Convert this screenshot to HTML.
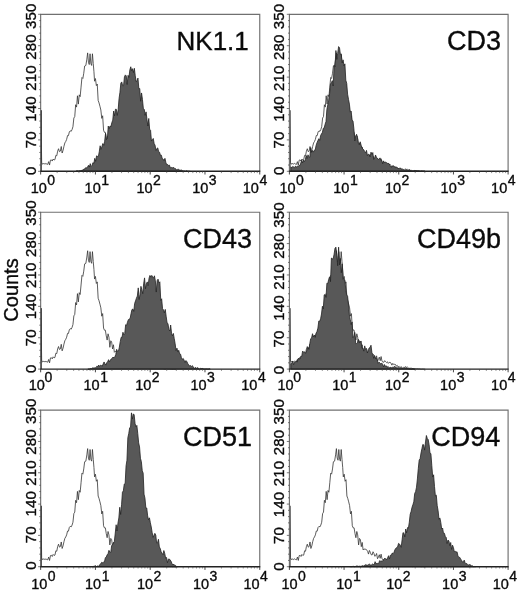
<!DOCTYPE html>
<html><head><meta charset="utf-8"><title>histograms</title>
<style>
html,body{margin:0;padding:0;background:#fff;}
body{width:520px;height:591px;position:relative;overflow:hidden;font-family:"Liberation Sans",sans-serif;}
.t{font-family:"Liberation Sans",sans-serif;fill:#0a0a0a;stroke:#0a0a0a;stroke-width:0.35px;}
svg{will-change:transform;}
</style></head><body>
<svg width="520" height="591" viewBox="0 0 520 591" style="position:absolute;left:0;top:0">
<rect width="520" height="591" fill="#fff"/>
<path d="M40.95 171.30 L40.95 110.29 L41.65 162.33 L42.35 164.12 L43.25 163.65 L44.15 163.66 L45.05 164.13 L45.95 163.37 L46.85 164.15 L47.75 164.37 L48.65 161.65 L49.55 165.05 L50.45 160.17 L51.35 159.87 L52.25 161.06 L53.15 159.03 L54.05 160.01 L54.95 159.66 L55.85 155.37 L56.75 155.79 L57.65 151.16 L58.55 148.72 L59.45 151.67 L60.35 151.14 L61.25 146.51 L62.15 153.03 L63.05 150.41 L63.95 146.30 L64.85 142.91 L65.75 141.46 L66.65 139.38 L67.55 135.54 L68.45 135.64 L69.35 131.88 L70.25 130.79 L71.15 131.42 L72.05 129.59 L72.95 126.72 L73.85 118.06 L74.75 116.56 L75.65 104.74 L76.55 107.10 L77.45 95.79 L78.35 104.09 L79.25 94.84 L80.15 96.63 L81.05 87.12 L81.95 77.55 L82.85 78.46 L83.75 73.25 L84.65 66.03 L85.85 65.44 L86.85 59.16 L87.65 52.88 L88.45 62.30 L89.25 64.54 L90.05 53.77 L90.85 63.64 L91.65 65.44 L92.45 53.77 L93.25 63.64 L93.95 71.72 L94.55 81.21 L95.45 78.56 L96.35 85.61 L97.25 84.06 L98.15 100.39 L99.05 102.94 L99.95 106.31 L100.85 110.00 L101.75 118.36 L102.65 115.75 L103.55 130.23 L104.45 132.37 L105.35 132.35 L106.25 138.08 L107.15 142.25 L108.05 135.98 L108.95 139.41 L109.85 149.48 L110.75 142.93 L111.65 144.13 L112.55 151.19 L113.45 146.95 L114.35 154.47 L115.25 153.45 L116.15 153.93 L117.05 153.62 L117.95 154.63 L118.85 155.80 L119.75 158.66 L120.65 155.00 L121.55 156.87 L122.45 159.30 L123.35 159.59 L124.25 156.31 L125.15 157.93 L126.05 160.87 L126.95 160.21 L127.85 158.03 L128.75 163.35 L129.65 161.71 L130.55 159.32 L131.45 162.88 L132.35 158.74 L133.25 163.44 L134.15 164.21 L135.05 164.49 L135.95 162.85 L136.85 163.90 L137.75 164.79 L138.65 163.97 L139.55 165.58 L140.45 164.61 L141.35 164.54 L142.25 165.31 L143.15 167.37 L144.05 165.56 L144.95 166.78 L145.85 166.50 L146.75 166.72 L147.65 168.34 L148.55 167.62 L149.45 169.21 L150.35 168.50 L151.25 170.34 L152.15 168.80 L153.05 169.40 L153.95 170.67 L154.85 169.47 L155.75 170.15 L156.65 168.72 L157.55 169.94 L158.45 168.92 L159.35 169.88 L160.25 170.78 L161.15 170.32 L162.05 170.45 L162.95 170.31 L163.85 171.30 L164.75 170.94 L165.65 171.08 L166.55 170.86 L167.45 170.91 L168.35 170.91 L169.25 170.87 L170.15 171.12 L171.05 170.94 L171.95 171.22 L172.85 171.26 L173.75 171.16 L174.65 171.22 L175.55 171.30 L176.45 171.30" fill="none" stroke="#333" stroke-width="0.8" stroke-linejoin="round"/>
<path d="M75.85 171.30 L75.85 171.30 L76.75 170.81 L77.65 170.85 L78.55 170.98 L79.45 170.63 L80.35 170.64 L81.25 170.59 L82.15 170.02 L83.05 170.28 L83.95 168.92 L84.85 169.00 L85.75 167.59 L86.65 168.06 L87.55 166.90 L88.45 165.31 L89.35 167.11 L90.25 163.66 L91.15 166.44 L92.05 165.43 L92.95 162.62 L93.85 163.46 L94.75 158.32 L95.65 161.31 L96.55 155.87 L97.45 156.35 L98.35 156.65 L99.25 151.78 L100.15 145.77 L101.05 149.42 L101.95 146.45 L102.85 143.57 L103.75 145.40 L104.65 141.25 L105.55 133.42 L106.45 139.60 L107.35 138.67 L108.25 126.09 L109.15 128.79 L110.05 125.98 L110.95 126.61 L111.85 122.61 L112.75 120.14 L113.65 111.00 L114.55 115.90 L115.45 109.22 L116.35 109.31 L117.25 115.45 L118.15 109.82 L119.05 98.52 L119.95 92.37 L120.85 83.14 L121.75 81.92 L122.65 85.76 L123.55 85.70 L124.45 76.78 L125.35 74.90 L126.25 75.88 L127.15 84.47 L128.05 75.34 L128.95 77.36 L129.85 69.90 L130.75 66.78 L131.65 70.75 L132.55 68.68 L133.45 72.57 L134.35 68.27 L135.25 75.84 L136.15 81.58 L137.05 80.75 L137.95 78.09 L138.85 88.79 L139.75 88.59 L140.65 101.25 L141.55 92.94 L142.45 99.36 L143.35 108.52 L144.25 109.34 L145.15 115.40 L146.05 111.86 L146.95 119.17 L147.85 126.01 L148.75 118.46 L149.65 129.25 L150.55 130.28 L151.45 141.07 L152.35 139.54 L153.25 138.46 L154.15 143.52 L155.05 145.26 L155.95 150.49 L156.85 148.56 L157.75 147.91 L158.65 151.68 L159.55 152.19 L160.45 155.34 L161.35 155.17 L162.25 158.58 L163.15 159.12 L164.05 160.88 L164.95 158.33 L165.85 162.40 L166.75 164.80 L167.65 164.40 L168.55 165.60 L169.45 165.14 L170.35 167.84 L171.25 167.43 L172.15 167.84 L173.05 167.68 L173.95 167.59 L174.85 168.60 L175.75 168.82 L176.65 170.12 L177.55 169.40 L178.45 169.13 L179.35 170.07 L180.25 170.30 L181.15 169.89 L182.05 170.46 L182.95 171.01 L183.85 170.92 L184.75 171.05 L185.65 171.29 L186.55 170.75 L187.45 171.20 L188.35 171.27 L189.25 171.30 L190.15 171.30 L190.15 171.30 Z" fill="#585858" stroke="#222" stroke-width="0.8" stroke-linejoin="round"/>
<line x1="41.05" y1="171.3" x2="41.05" y2="110.29" stroke="#1a1a1a" stroke-width="1.2"/>
<path d="M40.65 171.3 L40.65 14.3 L259.75 14.3 L259.75 171.3" fill="none" stroke="#707070" stroke-width="1.15"/>
<line x1="40.15" y1="171.3" x2="260.25" y2="171.3" stroke="#222" stroke-width="1.4"/>
<line x1="38.05" y1="171.30" x2="40.65" y2="171.30" stroke="#444" stroke-width="0.7"/>
<line x1="39.25" y1="165.02" x2="40.65" y2="165.02" stroke="#444" stroke-width="0.7"/>
<line x1="39.25" y1="158.74" x2="40.65" y2="158.74" stroke="#444" stroke-width="0.7"/>
<line x1="39.25" y1="152.46" x2="40.65" y2="152.46" stroke="#444" stroke-width="0.7"/>
<line x1="39.25" y1="146.18" x2="40.65" y2="146.18" stroke="#444" stroke-width="0.7"/>
<line x1="38.05" y1="139.90" x2="40.65" y2="139.90" stroke="#444" stroke-width="0.7"/>
<line x1="39.25" y1="133.62" x2="40.65" y2="133.62" stroke="#444" stroke-width="0.7"/>
<line x1="39.25" y1="127.34" x2="40.65" y2="127.34" stroke="#444" stroke-width="0.7"/>
<line x1="39.25" y1="121.06" x2="40.65" y2="121.06" stroke="#444" stroke-width="0.7"/>
<line x1="39.25" y1="114.78" x2="40.65" y2="114.78" stroke="#444" stroke-width="0.7"/>
<line x1="38.05" y1="108.50" x2="40.65" y2="108.50" stroke="#444" stroke-width="0.7"/>
<line x1="39.25" y1="102.22" x2="40.65" y2="102.22" stroke="#444" stroke-width="0.7"/>
<line x1="39.25" y1="95.94" x2="40.65" y2="95.94" stroke="#444" stroke-width="0.7"/>
<line x1="39.25" y1="89.66" x2="40.65" y2="89.66" stroke="#444" stroke-width="0.7"/>
<line x1="39.25" y1="83.38" x2="40.65" y2="83.38" stroke="#444" stroke-width="0.7"/>
<line x1="38.05" y1="77.10" x2="40.65" y2="77.10" stroke="#444" stroke-width="0.7"/>
<line x1="39.25" y1="70.82" x2="40.65" y2="70.82" stroke="#444" stroke-width="0.7"/>
<line x1="39.25" y1="64.54" x2="40.65" y2="64.54" stroke="#444" stroke-width="0.7"/>
<line x1="39.25" y1="58.26" x2="40.65" y2="58.26" stroke="#444" stroke-width="0.7"/>
<line x1="39.25" y1="51.98" x2="40.65" y2="51.98" stroke="#444" stroke-width="0.7"/>
<line x1="38.05" y1="45.70" x2="40.65" y2="45.70" stroke="#444" stroke-width="0.7"/>
<line x1="39.25" y1="39.42" x2="40.65" y2="39.42" stroke="#444" stroke-width="0.7"/>
<line x1="39.25" y1="33.14" x2="40.65" y2="33.14" stroke="#444" stroke-width="0.7"/>
<line x1="39.25" y1="26.86" x2="40.65" y2="26.86" stroke="#444" stroke-width="0.7"/>
<line x1="39.25" y1="20.58" x2="40.65" y2="20.58" stroke="#444" stroke-width="0.7"/>
<line x1="38.05" y1="14.30" x2="40.65" y2="14.30" stroke="#444" stroke-width="0.7"/>
<line x1="40.65" y1="171.3" x2="40.65" y2="174.5" stroke="#333" stroke-width="0.9"/>
<line x1="57.14" y1="171.3" x2="57.14" y2="173.10000000000002" stroke="#444" stroke-width="0.6"/>
<line x1="66.78" y1="171.3" x2="66.78" y2="173.10000000000002" stroke="#444" stroke-width="0.6"/>
<line x1="73.63" y1="171.3" x2="73.63" y2="173.10000000000002" stroke="#444" stroke-width="0.6"/>
<line x1="78.94" y1="171.3" x2="78.94" y2="173.10000000000002" stroke="#444" stroke-width="0.6"/>
<line x1="83.27" y1="171.3" x2="83.27" y2="173.10000000000002" stroke="#444" stroke-width="0.6"/>
<line x1="86.94" y1="171.3" x2="86.94" y2="173.10000000000002" stroke="#444" stroke-width="0.6"/>
<line x1="90.12" y1="171.3" x2="90.12" y2="173.10000000000002" stroke="#444" stroke-width="0.6"/>
<line x1="92.92" y1="171.3" x2="92.92" y2="173.10000000000002" stroke="#444" stroke-width="0.6"/>
<line x1="95.42" y1="171.3" x2="95.42" y2="174.5" stroke="#333" stroke-width="0.9"/>
<line x1="111.91" y1="171.3" x2="111.91" y2="173.10000000000002" stroke="#444" stroke-width="0.6"/>
<line x1="121.56" y1="171.3" x2="121.56" y2="173.10000000000002" stroke="#444" stroke-width="0.6"/>
<line x1="128.40" y1="171.3" x2="128.40" y2="173.10000000000002" stroke="#444" stroke-width="0.6"/>
<line x1="133.71" y1="171.3" x2="133.71" y2="173.10000000000002" stroke="#444" stroke-width="0.6"/>
<line x1="138.05" y1="171.3" x2="138.05" y2="173.10000000000002" stroke="#444" stroke-width="0.6"/>
<line x1="141.72" y1="171.3" x2="141.72" y2="173.10000000000002" stroke="#444" stroke-width="0.6"/>
<line x1="144.89" y1="171.3" x2="144.89" y2="173.10000000000002" stroke="#444" stroke-width="0.6"/>
<line x1="147.69" y1="171.3" x2="147.69" y2="173.10000000000002" stroke="#444" stroke-width="0.6"/>
<line x1="150.20" y1="171.3" x2="150.20" y2="174.5" stroke="#333" stroke-width="0.9"/>
<line x1="166.69" y1="171.3" x2="166.69" y2="173.10000000000002" stroke="#444" stroke-width="0.6"/>
<line x1="176.33" y1="171.3" x2="176.33" y2="173.10000000000002" stroke="#444" stroke-width="0.6"/>
<line x1="183.18" y1="171.3" x2="183.18" y2="173.10000000000002" stroke="#444" stroke-width="0.6"/>
<line x1="188.49" y1="171.3" x2="188.49" y2="173.10000000000002" stroke="#444" stroke-width="0.6"/>
<line x1="192.82" y1="171.3" x2="192.82" y2="173.10000000000002" stroke="#444" stroke-width="0.6"/>
<line x1="196.49" y1="171.3" x2="196.49" y2="173.10000000000002" stroke="#444" stroke-width="0.6"/>
<line x1="199.67" y1="171.3" x2="199.67" y2="173.10000000000002" stroke="#444" stroke-width="0.6"/>
<line x1="202.47" y1="171.3" x2="202.47" y2="173.10000000000002" stroke="#444" stroke-width="0.6"/>
<line x1="204.97" y1="171.3" x2="204.97" y2="174.5" stroke="#333" stroke-width="0.9"/>
<line x1="221.46" y1="171.3" x2="221.46" y2="173.10000000000002" stroke="#444" stroke-width="0.6"/>
<line x1="231.11" y1="171.3" x2="231.11" y2="173.10000000000002" stroke="#444" stroke-width="0.6"/>
<line x1="237.95" y1="171.3" x2="237.95" y2="173.10000000000002" stroke="#444" stroke-width="0.6"/>
<line x1="243.26" y1="171.3" x2="243.26" y2="173.10000000000002" stroke="#444" stroke-width="0.6"/>
<line x1="247.60" y1="171.3" x2="247.60" y2="173.10000000000002" stroke="#444" stroke-width="0.6"/>
<line x1="251.27" y1="171.3" x2="251.27" y2="173.10000000000002" stroke="#444" stroke-width="0.6"/>
<line x1="254.44" y1="171.3" x2="254.44" y2="173.10000000000002" stroke="#444" stroke-width="0.6"/>
<line x1="257.24" y1="171.3" x2="257.24" y2="173.10000000000002" stroke="#444" stroke-width="0.6"/>
<line x1="259.75" y1="171.3" x2="259.75" y2="174.5" stroke="#333" stroke-width="0.9"/>
<text transform="translate(35.65 170.70) rotate(-90)" text-anchor="middle" font-size="15" letter-spacing="0.15" class="t">0</text>
<text transform="translate(35.65 139.80) rotate(-90)" text-anchor="middle" font-size="15" letter-spacing="0.15" class="t">70</text>
<text transform="translate(35.65 108.90) rotate(-90)" text-anchor="middle" font-size="15" letter-spacing="0.15" class="t">140</text>
<text transform="translate(35.65 78.00) rotate(-90)" text-anchor="middle" font-size="15" letter-spacing="0.15" class="t">210</text>
<text transform="translate(35.65 47.10) rotate(-90)" text-anchor="middle" font-size="15" letter-spacing="0.15" class="t">280</text>
<text transform="translate(35.65 16.20) rotate(-90)" text-anchor="middle" font-size="15" letter-spacing="0.15" class="t">350</text>
<text x="30.65" y="193.10" font-size="14.5" class="t">10<tspan dy="-8" dx="0.5" font-size="14">0</tspan></text>
<text x="84.62" y="193.10" font-size="14.5" class="t">10<tspan dy="-8" dx="0.5" font-size="14">1</tspan></text>
<text x="136.40" y="193.10" font-size="14.5" class="t">10<tspan dy="-8" dx="0.5" font-size="14">2</tspan></text>
<text x="192.17" y="193.10" font-size="14.5" class="t">10<tspan dy="-8" dx="0.5" font-size="14">3</tspan></text>
<text x="242.75" y="193.10" font-size="14.5" class="t">10<tspan dy="-8" dx="0.5" font-size="14">4</tspan></text>
<text x="248.8" y="50.10" text-anchor="end" font-size="26" class="t">NK1.1</text>
<path d="M289.70 171.30 L289.70 110.29 L290.40 162.33 L291.10 164.12 L292.00 163.65 L292.90 163.66 L293.80 164.13 L294.70 163.37 L295.60 164.15 L296.50 164.37 L297.40 161.65 L298.30 165.05 L299.20 160.17 L300.10 159.87 L301.00 161.06 L301.90 159.03 L302.80 160.01 L303.70 159.66 L304.60 155.37 L305.50 155.79 L306.40 151.16 L307.30 148.72 L308.20 151.67 L309.10 151.14 L310.00 146.51 L310.90 153.03 L311.80 150.41 L312.70 146.30 L313.60 142.91 L314.50 141.46 L315.40 139.38 L316.30 135.54 L317.20 135.64 L318.10 131.88 L319.00 130.79 L319.90 131.42 L320.80 129.59 L321.70 126.72 L322.60 118.06 L323.50 116.56 L324.40 104.74 L325.30 107.10 L326.20 95.79 L327.10 104.09 L328.00 94.84 L328.90 96.63 L329.80 87.12 L330.70 77.55 L331.60 78.46 L332.50 73.25 L333.40 66.03 L334.60 65.44 L335.60 59.16 L336.40 52.88 L337.20 62.30 L338.00 64.54 L338.80 53.77 L339.60 63.64 L340.40 65.44 L341.20 53.77 L342.00 63.64 L342.70 71.72 L343.30 81.21 L344.20 78.56 L345.10 85.61 L346.00 84.06 L346.90 100.39 L347.80 102.94 L348.70 106.31 L349.60 110.00 L350.50 118.36 L351.40 115.75 L352.30 130.23 L353.20 132.37 L354.10 132.35 L355.00 138.08 L355.90 142.25 L356.80 135.98 L357.70 139.41 L358.60 149.48 L359.50 142.93 L360.40 144.13 L361.30 151.19 L362.20 146.95 L363.10 154.47 L364.00 153.45 L364.90 153.93 L365.80 153.62 L366.70 154.63 L367.60 155.80 L368.50 158.66 L369.40 155.00 L370.30 156.87 L371.20 159.30 L372.10 159.59 L373.00 156.31 L373.90 157.93 L374.80 160.87 L375.70 160.21 L376.60 158.03 L377.50 163.35 L378.40 161.71 L379.30 159.32 L380.20 162.88 L381.10 158.74 L382.00 163.44 L382.90 164.21 L383.80 164.49 L384.70 162.85 L385.60 163.90 L386.50 164.79 L387.40 163.97 L388.30 165.58 L389.20 164.61 L390.10 164.54 L391.00 165.31 L391.90 167.37 L392.80 165.56 L393.70 166.78 L394.60 166.50 L395.50 166.72 L396.40 168.34 L397.30 167.62 L398.20 169.21 L399.10 168.50 L400.00 170.34 L400.90 168.80 L401.80 169.40 L402.70 170.67 L403.60 169.47 L404.50 170.15 L405.40 168.72 L406.30 169.94 L407.20 168.92 L408.10 169.88 L409.00 170.78 L409.90 170.32 L410.80 170.45 L411.70 170.31 L412.60 171.30 L413.50 170.94 L414.40 171.08 L415.30 170.86 L416.20 170.91 L417.10 170.91 L418.00 170.87 L418.90 171.12 L419.80 170.94 L420.70 171.22 L421.60 171.26 L422.50 171.16 L423.40 171.22 L424.30 171.30 L425.20 171.30" fill="none" stroke="#333" stroke-width="0.8" stroke-linejoin="round"/>
<path d="M290.90 171.30 L290.90 166.81 L291.80 167.72 L292.70 166.45 L293.60 166.96 L294.50 167.75 L295.40 166.12 L296.30 166.97 L297.20 166.29 L298.10 166.15 L299.00 165.71 L299.90 165.35 L300.80 163.11 L301.70 160.33 L302.60 162.89 L303.50 159.94 L304.40 161.69 L305.30 159.81 L306.20 155.50 L307.10 158.53 L308.00 154.81 L308.90 156.93 L309.80 157.31 L310.70 147.61 L311.60 152.30 L312.50 150.45 L313.40 152.15 L314.30 150.18 L315.20 150.02 L316.10 145.39 L317.00 142.64 L317.90 140.62 L318.80 138.70 L319.70 140.46 L320.60 135.56 L321.50 133.83 L322.40 132.37 L323.30 128.27 L324.20 128.00 L325.10 124.25 L326.00 121.52 L326.90 109.29 L327.80 104.82 L328.70 100.12 L329.60 93.56 L330.50 84.10 L331.40 82.76 L332.30 80.64 L333.20 86.00 L334.10 65.25 L335.00 66.90 L335.90 50.52 L336.80 59.47 L337.70 53.30 L338.60 46.60 L339.50 47.67 L340.40 54.48 L341.30 54.72 L342.20 62.91 L343.10 59.84 L344.00 65.88 L344.90 63.87 L345.80 80.24 L346.70 83.21 L347.60 94.15 L348.50 99.35 L349.40 104.08 L350.30 112.11 L351.20 111.18 L352.10 120.34 L353.00 120.95 L353.90 128.80 L354.80 141.00 L355.70 136.03 L356.60 134.30 L357.50 137.39 L358.40 143.45 L359.30 144.74 L360.20 141.77 L361.10 145.14 L362.00 148.14 L362.90 148.89 L363.80 149.84 L364.70 151.64 L365.60 152.79 L366.50 150.36 L367.40 155.51 L368.30 154.24 L369.20 154.40 L370.10 156.84 L371.00 152.13 L371.90 154.36 L372.80 152.56 L373.70 159.54 L374.60 157.91 L375.50 154.98 L376.40 157.32 L377.30 157.99 L378.20 159.42 L379.10 159.29 L380.00 157.88 L380.90 160.27 L381.80 160.41 L382.70 163.69 L383.60 160.86 L384.50 163.00 L385.40 161.96 L386.30 162.44 L387.20 163.31 L388.10 163.40 L389.00 163.57 L389.90 165.49 L390.80 167.18 L391.70 166.99 L392.60 166.42 L393.50 165.92 L394.40 166.79 L395.30 167.77 L396.20 166.99 L397.10 167.85 L398.00 168.22 L398.90 168.78 L399.80 168.14 L400.70 168.10 L401.60 169.39 L402.50 168.99 L403.40 169.66 L404.30 170.48 L405.20 170.23 L406.10 169.97 L407.00 170.80 L407.90 170.35 L408.80 170.09 L409.70 169.55 L410.60 171.30 L411.50 171.01 L412.40 170.82 L413.30 170.99 L414.20 170.56 L415.10 170.75 L416.00 170.61 L416.90 170.96 L417.80 170.90 L418.70 170.86 L419.60 171.17 L420.50 171.30 L421.40 170.91 L422.30 171.17 L423.20 171.18 L424.10 171.10 L425.00 171.30 L425.00 171.30 Z" fill="#585858" stroke="#222" stroke-width="0.8" stroke-linejoin="round"/>
<line x1="289.80" y1="171.3" x2="289.80" y2="110.29" stroke="#1a1a1a" stroke-width="1.2"/>
<path d="M289.4 171.3 L289.4 14.3 L508.1 14.3 L508.1 171.3" fill="none" stroke="#707070" stroke-width="1.15"/>
<line x1="288.9" y1="171.3" x2="508.6" y2="171.3" stroke="#222" stroke-width="1.4"/>
<line x1="286.80" y1="171.30" x2="289.4" y2="171.30" stroke="#444" stroke-width="0.7"/>
<line x1="288.00" y1="165.02" x2="289.4" y2="165.02" stroke="#444" stroke-width="0.7"/>
<line x1="288.00" y1="158.74" x2="289.4" y2="158.74" stroke="#444" stroke-width="0.7"/>
<line x1="288.00" y1="152.46" x2="289.4" y2="152.46" stroke="#444" stroke-width="0.7"/>
<line x1="288.00" y1="146.18" x2="289.4" y2="146.18" stroke="#444" stroke-width="0.7"/>
<line x1="286.80" y1="139.90" x2="289.4" y2="139.90" stroke="#444" stroke-width="0.7"/>
<line x1="288.00" y1="133.62" x2="289.4" y2="133.62" stroke="#444" stroke-width="0.7"/>
<line x1="288.00" y1="127.34" x2="289.4" y2="127.34" stroke="#444" stroke-width="0.7"/>
<line x1="288.00" y1="121.06" x2="289.4" y2="121.06" stroke="#444" stroke-width="0.7"/>
<line x1="288.00" y1="114.78" x2="289.4" y2="114.78" stroke="#444" stroke-width="0.7"/>
<line x1="286.80" y1="108.50" x2="289.4" y2="108.50" stroke="#444" stroke-width="0.7"/>
<line x1="288.00" y1="102.22" x2="289.4" y2="102.22" stroke="#444" stroke-width="0.7"/>
<line x1="288.00" y1="95.94" x2="289.4" y2="95.94" stroke="#444" stroke-width="0.7"/>
<line x1="288.00" y1="89.66" x2="289.4" y2="89.66" stroke="#444" stroke-width="0.7"/>
<line x1="288.00" y1="83.38" x2="289.4" y2="83.38" stroke="#444" stroke-width="0.7"/>
<line x1="286.80" y1="77.10" x2="289.4" y2="77.10" stroke="#444" stroke-width="0.7"/>
<line x1="288.00" y1="70.82" x2="289.4" y2="70.82" stroke="#444" stroke-width="0.7"/>
<line x1="288.00" y1="64.54" x2="289.4" y2="64.54" stroke="#444" stroke-width="0.7"/>
<line x1="288.00" y1="58.26" x2="289.4" y2="58.26" stroke="#444" stroke-width="0.7"/>
<line x1="288.00" y1="51.98" x2="289.4" y2="51.98" stroke="#444" stroke-width="0.7"/>
<line x1="286.80" y1="45.70" x2="289.4" y2="45.70" stroke="#444" stroke-width="0.7"/>
<line x1="288.00" y1="39.42" x2="289.4" y2="39.42" stroke="#444" stroke-width="0.7"/>
<line x1="288.00" y1="33.14" x2="289.4" y2="33.14" stroke="#444" stroke-width="0.7"/>
<line x1="288.00" y1="26.86" x2="289.4" y2="26.86" stroke="#444" stroke-width="0.7"/>
<line x1="288.00" y1="20.58" x2="289.4" y2="20.58" stroke="#444" stroke-width="0.7"/>
<line x1="286.80" y1="14.30" x2="289.4" y2="14.30" stroke="#444" stroke-width="0.7"/>
<line x1="289.40" y1="171.3" x2="289.40" y2="174.5" stroke="#333" stroke-width="0.9"/>
<line x1="305.86" y1="171.3" x2="305.86" y2="173.10000000000002" stroke="#444" stroke-width="0.6"/>
<line x1="315.49" y1="171.3" x2="315.49" y2="173.10000000000002" stroke="#444" stroke-width="0.6"/>
<line x1="322.32" y1="171.3" x2="322.32" y2="173.10000000000002" stroke="#444" stroke-width="0.6"/>
<line x1="327.62" y1="171.3" x2="327.62" y2="173.10000000000002" stroke="#444" stroke-width="0.6"/>
<line x1="331.95" y1="171.3" x2="331.95" y2="173.10000000000002" stroke="#444" stroke-width="0.6"/>
<line x1="335.61" y1="171.3" x2="335.61" y2="173.10000000000002" stroke="#444" stroke-width="0.6"/>
<line x1="338.78" y1="171.3" x2="338.78" y2="173.10000000000002" stroke="#444" stroke-width="0.6"/>
<line x1="341.57" y1="171.3" x2="341.57" y2="173.10000000000002" stroke="#444" stroke-width="0.6"/>
<line x1="344.07" y1="171.3" x2="344.07" y2="174.5" stroke="#333" stroke-width="0.9"/>
<line x1="360.53" y1="171.3" x2="360.53" y2="173.10000000000002" stroke="#444" stroke-width="0.6"/>
<line x1="370.16" y1="171.3" x2="370.16" y2="173.10000000000002" stroke="#444" stroke-width="0.6"/>
<line x1="376.99" y1="171.3" x2="376.99" y2="173.10000000000002" stroke="#444" stroke-width="0.6"/>
<line x1="382.29" y1="171.3" x2="382.29" y2="173.10000000000002" stroke="#444" stroke-width="0.6"/>
<line x1="386.62" y1="171.3" x2="386.62" y2="173.10000000000002" stroke="#444" stroke-width="0.6"/>
<line x1="390.28" y1="171.3" x2="390.28" y2="173.10000000000002" stroke="#444" stroke-width="0.6"/>
<line x1="393.45" y1="171.3" x2="393.45" y2="173.10000000000002" stroke="#444" stroke-width="0.6"/>
<line x1="396.25" y1="171.3" x2="396.25" y2="173.10000000000002" stroke="#444" stroke-width="0.6"/>
<line x1="398.75" y1="171.3" x2="398.75" y2="174.5" stroke="#333" stroke-width="0.9"/>
<line x1="415.21" y1="171.3" x2="415.21" y2="173.10000000000002" stroke="#444" stroke-width="0.6"/>
<line x1="424.84" y1="171.3" x2="424.84" y2="173.10000000000002" stroke="#444" stroke-width="0.6"/>
<line x1="431.67" y1="171.3" x2="431.67" y2="173.10000000000002" stroke="#444" stroke-width="0.6"/>
<line x1="436.97" y1="171.3" x2="436.97" y2="173.10000000000002" stroke="#444" stroke-width="0.6"/>
<line x1="441.30" y1="171.3" x2="441.30" y2="173.10000000000002" stroke="#444" stroke-width="0.6"/>
<line x1="444.96" y1="171.3" x2="444.96" y2="173.10000000000002" stroke="#444" stroke-width="0.6"/>
<line x1="448.13" y1="171.3" x2="448.13" y2="173.10000000000002" stroke="#444" stroke-width="0.6"/>
<line x1="450.92" y1="171.3" x2="450.92" y2="173.10000000000002" stroke="#444" stroke-width="0.6"/>
<line x1="453.43" y1="171.3" x2="453.43" y2="174.5" stroke="#333" stroke-width="0.9"/>
<line x1="469.88" y1="171.3" x2="469.88" y2="173.10000000000002" stroke="#444" stroke-width="0.6"/>
<line x1="479.51" y1="171.3" x2="479.51" y2="173.10000000000002" stroke="#444" stroke-width="0.6"/>
<line x1="486.34" y1="171.3" x2="486.34" y2="173.10000000000002" stroke="#444" stroke-width="0.6"/>
<line x1="491.64" y1="171.3" x2="491.64" y2="173.10000000000002" stroke="#444" stroke-width="0.6"/>
<line x1="495.97" y1="171.3" x2="495.97" y2="173.10000000000002" stroke="#444" stroke-width="0.6"/>
<line x1="499.63" y1="171.3" x2="499.63" y2="173.10000000000002" stroke="#444" stroke-width="0.6"/>
<line x1="502.80" y1="171.3" x2="502.80" y2="173.10000000000002" stroke="#444" stroke-width="0.6"/>
<line x1="505.60" y1="171.3" x2="505.60" y2="173.10000000000002" stroke="#444" stroke-width="0.6"/>
<line x1="508.10" y1="171.3" x2="508.10" y2="174.5" stroke="#333" stroke-width="0.9"/>
<text transform="translate(284.40 170.80) rotate(-90)" text-anchor="middle" font-size="15" letter-spacing="0.15" class="t">0</text>
<text transform="translate(284.40 139.92) rotate(-90)" text-anchor="middle" font-size="15" letter-spacing="0.15" class="t">70</text>
<text transform="translate(284.40 109.04) rotate(-90)" text-anchor="middle" font-size="15" letter-spacing="0.15" class="t">140</text>
<text transform="translate(284.40 78.16) rotate(-90)" text-anchor="middle" font-size="15" letter-spacing="0.15" class="t">210</text>
<text transform="translate(284.40 47.28) rotate(-90)" text-anchor="middle" font-size="15" letter-spacing="0.15" class="t">280</text>
<text transform="translate(284.40 16.40) rotate(-90)" text-anchor="middle" font-size="15" letter-spacing="0.15" class="t">350</text>
<text x="279.40" y="193.10" font-size="14.5" class="t">10<tspan dy="-8" dx="0.5" font-size="14">0</tspan></text>
<text x="333.27" y="193.10" font-size="14.5" class="t">10<tspan dy="-8" dx="0.5" font-size="14">1</tspan></text>
<text x="384.95" y="193.10" font-size="14.5" class="t">10<tspan dy="-8" dx="0.5" font-size="14">2</tspan></text>
<text x="440.62" y="193.10" font-size="14.5" class="t">10<tspan dy="-8" dx="0.5" font-size="14">3</tspan></text>
<text x="491.10" y="193.10" font-size="14.5" class="t">10<tspan dy="-8" dx="0.5" font-size="14">4</tspan></text>
<text x="501" y="50.10" text-anchor="end" font-size="27" class="t">CD3</text>
<path d="M40.95 369.10 L40.95 308.13 L41.65 360.13 L42.35 361.93 L43.25 361.45 L44.15 361.47 L45.05 361.94 L45.95 361.18 L46.85 361.95 L47.75 362.18 L48.65 359.46 L49.55 362.85 L50.45 357.98 L51.35 357.68 L52.25 358.86 L53.15 356.84 L54.05 357.81 L54.95 357.46 L55.85 353.18 L56.75 353.60 L57.65 348.97 L58.55 346.53 L59.45 349.48 L60.35 348.95 L61.25 344.32 L62.15 350.84 L63.05 348.22 L63.95 344.11 L64.85 340.73 L65.75 339.28 L66.65 337.20 L67.55 333.36 L68.45 333.47 L69.35 329.71 L70.25 328.61 L71.15 329.24 L72.05 327.42 L72.95 324.54 L73.85 315.89 L74.75 314.40 L75.65 302.58 L76.55 304.94 L77.45 293.64 L78.35 301.93 L79.25 292.69 L80.15 294.48 L81.05 284.97 L81.95 275.41 L82.85 276.32 L83.75 271.11 L84.65 263.90 L85.85 263.30 L86.85 257.03 L87.65 250.75 L88.45 260.17 L89.25 262.41 L90.05 251.65 L90.85 261.51 L91.65 263.30 L92.45 251.65 L93.25 261.51 L93.95 269.58 L94.55 279.06 L95.45 276.42 L96.35 283.47 L97.25 281.92 L98.15 298.24 L99.05 300.79 L99.95 304.15 L100.85 307.84 L101.75 316.20 L102.65 313.59 L103.55 328.05 L104.45 330.19 L105.35 330.17 L106.25 335.90 L107.15 340.07 L108.05 333.80 L108.95 337.23 L109.85 347.30 L110.75 340.75 L111.65 341.95 L112.55 349.00 L113.45 344.76 L114.35 352.28 L115.25 351.26 L116.15 351.74 L117.05 351.43 L117.95 352.45 L118.85 353.61 L119.75 356.47 L120.65 352.81 L121.55 354.68 L122.45 357.11 L123.35 357.40 L124.25 354.12 L125.15 355.73 L126.05 358.68 L126.95 358.02 L127.85 355.84 L128.75 361.16 L129.65 359.52 L130.55 357.13 L131.45 360.68 L132.35 356.55 L133.25 361.24 L134.15 362.02 L135.05 362.29 L135.95 360.66 L136.85 361.70 L137.75 362.59 L138.65 361.78 L139.55 363.38 L140.45 362.41 L141.35 362.34 L142.25 363.12 L143.15 365.18 L144.05 363.36 L144.95 364.58 L145.85 364.30 L146.75 364.53 L147.65 366.14 L148.55 365.42 L149.45 367.01 L150.35 366.30 L151.25 368.14 L152.15 366.60 L153.05 367.20 L153.95 368.47 L154.85 367.27 L155.75 367.95 L156.65 366.52 L157.55 367.75 L158.45 366.72 L159.35 367.68 L160.25 368.58 L161.15 368.12 L162.05 368.26 L162.95 368.11 L163.85 369.10 L164.75 368.74 L165.65 368.88 L166.55 368.66 L167.45 368.71 L168.35 368.71 L169.25 368.67 L170.15 368.92 L171.05 368.74 L171.95 369.02 L172.85 369.06 L173.75 368.96 L174.65 369.02 L175.55 369.10 L176.45 369.10" fill="none" stroke="#333" stroke-width="0.8" stroke-linejoin="round"/>
<path d="M87.85 369.10 L87.85 369.10 L88.75 369.10 L89.65 369.03 L90.55 368.50 L91.45 368.65 L92.35 367.92 L93.25 368.05 L94.15 367.77 L95.05 368.18 L95.95 367.41 L96.85 366.22 L97.75 366.77 L98.65 365.00 L99.55 366.44 L100.45 365.19 L101.35 365.47 L102.25 366.12 L103.15 363.96 L104.05 361.96 L104.95 363.79 L105.85 365.08 L106.75 362.55 L107.65 361.96 L108.55 359.67 L109.45 361.88 L110.35 360.12 L111.25 358.98 L112.15 358.33 L113.05 357.01 L113.95 357.94 L114.85 356.72 L115.75 354.78 L116.65 349.33 L117.55 351.40 L118.45 351.21 L119.35 347.15 L120.25 341.48 L121.15 337.33 L122.05 337.26 L122.95 332.26 L123.85 334.91 L124.75 333.50 L125.65 324.72 L126.55 325.40 L127.45 322.29 L128.35 319.66 L129.25 319.07 L130.15 318.32 L131.05 313.62 L131.95 309.60 L132.85 309.02 L133.75 311.46 L134.65 303.46 L135.55 300.85 L136.45 298.15 L137.35 296.04 L138.25 287.89 L139.15 299.52 L140.05 294.36 L140.95 286.33 L141.85 289.90 L142.75 293.72 L143.65 283.82 L144.55 277.88 L145.45 288.78 L146.35 283.97 L147.25 281.88 L148.15 285.67 L149.05 278.18 L149.95 275.41 L150.85 277.19 L151.75 275.41 L152.65 276.83 L153.55 278.17 L154.45 275.80 L155.35 280.77 L156.25 292.05 L157.15 280.61 L158.05 279.15 L158.95 282.79 L159.85 281.82 L160.75 300.50 L161.65 298.74 L162.55 308.66 L163.45 309.80 L164.35 312.81 L165.25 309.41 L166.15 316.23 L167.05 322.72 L167.95 323.52 L168.85 329.47 L169.75 330.96 L170.65 325.00 L171.55 333.30 L172.45 335.82 L173.35 333.42 L174.25 338.64 L175.15 343.81 L176.05 350.60 L176.95 348.13 L177.85 352.02 L178.75 350.27 L179.65 353.90 L180.55 354.13 L181.45 357.75 L182.35 359.23 L183.25 358.47 L184.15 360.32 L185.05 362.37 L185.95 360.56 L186.85 361.60 L187.75 363.55 L188.65 364.77 L189.55 365.91 L190.45 365.53 L191.35 366.39 L192.25 365.68 L193.15 366.55 L194.05 368.38 L194.95 368.10 L195.85 367.41 L196.75 368.65 L197.65 367.49 L198.55 368.79 L199.45 369.10 L200.35 368.40 L201.25 368.62 L202.15 368.39 L203.05 368.73 L203.95 369.10 L204.85 369.02 L205.75 368.96 L206.65 368.89 L207.55 369.03 L208.45 369.01 L209.35 368.81 L210.25 369.10 L210.25 369.10 Z" fill="#585858" stroke="#222" stroke-width="0.8" stroke-linejoin="round"/>
<line x1="41.05" y1="369.1" x2="41.05" y2="308.13" stroke="#1a1a1a" stroke-width="1.2"/>
<path d="M40.65 369.1 L40.65 212.2 L259.75 212.2 L259.75 369.1" fill="none" stroke="#707070" stroke-width="1.15"/>
<line x1="40.15" y1="369.1" x2="260.25" y2="369.1" stroke="#222" stroke-width="1.4"/>
<line x1="38.05" y1="369.10" x2="40.65" y2="369.10" stroke="#444" stroke-width="0.7"/>
<line x1="39.25" y1="362.82" x2="40.65" y2="362.82" stroke="#444" stroke-width="0.7"/>
<line x1="39.25" y1="356.55" x2="40.65" y2="356.55" stroke="#444" stroke-width="0.7"/>
<line x1="39.25" y1="350.27" x2="40.65" y2="350.27" stroke="#444" stroke-width="0.7"/>
<line x1="39.25" y1="344.00" x2="40.65" y2="344.00" stroke="#444" stroke-width="0.7"/>
<line x1="38.05" y1="337.72" x2="40.65" y2="337.72" stroke="#444" stroke-width="0.7"/>
<line x1="39.25" y1="331.44" x2="40.65" y2="331.44" stroke="#444" stroke-width="0.7"/>
<line x1="39.25" y1="325.17" x2="40.65" y2="325.17" stroke="#444" stroke-width="0.7"/>
<line x1="39.25" y1="318.89" x2="40.65" y2="318.89" stroke="#444" stroke-width="0.7"/>
<line x1="39.25" y1="312.62" x2="40.65" y2="312.62" stroke="#444" stroke-width="0.7"/>
<line x1="38.05" y1="306.34" x2="40.65" y2="306.34" stroke="#444" stroke-width="0.7"/>
<line x1="39.25" y1="300.06" x2="40.65" y2="300.06" stroke="#444" stroke-width="0.7"/>
<line x1="39.25" y1="293.79" x2="40.65" y2="293.79" stroke="#444" stroke-width="0.7"/>
<line x1="39.25" y1="287.51" x2="40.65" y2="287.51" stroke="#444" stroke-width="0.7"/>
<line x1="39.25" y1="281.24" x2="40.65" y2="281.24" stroke="#444" stroke-width="0.7"/>
<line x1="38.05" y1="274.96" x2="40.65" y2="274.96" stroke="#444" stroke-width="0.7"/>
<line x1="39.25" y1="268.68" x2="40.65" y2="268.68" stroke="#444" stroke-width="0.7"/>
<line x1="39.25" y1="262.41" x2="40.65" y2="262.41" stroke="#444" stroke-width="0.7"/>
<line x1="39.25" y1="256.13" x2="40.65" y2="256.13" stroke="#444" stroke-width="0.7"/>
<line x1="39.25" y1="249.86" x2="40.65" y2="249.86" stroke="#444" stroke-width="0.7"/>
<line x1="38.05" y1="243.58" x2="40.65" y2="243.58" stroke="#444" stroke-width="0.7"/>
<line x1="39.25" y1="237.30" x2="40.65" y2="237.30" stroke="#444" stroke-width="0.7"/>
<line x1="39.25" y1="231.03" x2="40.65" y2="231.03" stroke="#444" stroke-width="0.7"/>
<line x1="39.25" y1="224.75" x2="40.65" y2="224.75" stroke="#444" stroke-width="0.7"/>
<line x1="39.25" y1="218.48" x2="40.65" y2="218.48" stroke="#444" stroke-width="0.7"/>
<line x1="38.05" y1="212.20" x2="40.65" y2="212.20" stroke="#444" stroke-width="0.7"/>
<line x1="40.65" y1="369.1" x2="40.65" y2="372.3" stroke="#333" stroke-width="0.9"/>
<line x1="57.14" y1="369.1" x2="57.14" y2="370.90000000000003" stroke="#444" stroke-width="0.6"/>
<line x1="66.78" y1="369.1" x2="66.78" y2="370.90000000000003" stroke="#444" stroke-width="0.6"/>
<line x1="73.63" y1="369.1" x2="73.63" y2="370.90000000000003" stroke="#444" stroke-width="0.6"/>
<line x1="78.94" y1="369.1" x2="78.94" y2="370.90000000000003" stroke="#444" stroke-width="0.6"/>
<line x1="83.27" y1="369.1" x2="83.27" y2="370.90000000000003" stroke="#444" stroke-width="0.6"/>
<line x1="86.94" y1="369.1" x2="86.94" y2="370.90000000000003" stroke="#444" stroke-width="0.6"/>
<line x1="90.12" y1="369.1" x2="90.12" y2="370.90000000000003" stroke="#444" stroke-width="0.6"/>
<line x1="92.92" y1="369.1" x2="92.92" y2="370.90000000000003" stroke="#444" stroke-width="0.6"/>
<line x1="95.42" y1="369.1" x2="95.42" y2="372.3" stroke="#333" stroke-width="0.9"/>
<line x1="111.91" y1="369.1" x2="111.91" y2="370.90000000000003" stroke="#444" stroke-width="0.6"/>
<line x1="121.56" y1="369.1" x2="121.56" y2="370.90000000000003" stroke="#444" stroke-width="0.6"/>
<line x1="128.40" y1="369.1" x2="128.40" y2="370.90000000000003" stroke="#444" stroke-width="0.6"/>
<line x1="133.71" y1="369.1" x2="133.71" y2="370.90000000000003" stroke="#444" stroke-width="0.6"/>
<line x1="138.05" y1="369.1" x2="138.05" y2="370.90000000000003" stroke="#444" stroke-width="0.6"/>
<line x1="141.72" y1="369.1" x2="141.72" y2="370.90000000000003" stroke="#444" stroke-width="0.6"/>
<line x1="144.89" y1="369.1" x2="144.89" y2="370.90000000000003" stroke="#444" stroke-width="0.6"/>
<line x1="147.69" y1="369.1" x2="147.69" y2="370.90000000000003" stroke="#444" stroke-width="0.6"/>
<line x1="150.20" y1="369.1" x2="150.20" y2="372.3" stroke="#333" stroke-width="0.9"/>
<line x1="166.69" y1="369.1" x2="166.69" y2="370.90000000000003" stroke="#444" stroke-width="0.6"/>
<line x1="176.33" y1="369.1" x2="176.33" y2="370.90000000000003" stroke="#444" stroke-width="0.6"/>
<line x1="183.18" y1="369.1" x2="183.18" y2="370.90000000000003" stroke="#444" stroke-width="0.6"/>
<line x1="188.49" y1="369.1" x2="188.49" y2="370.90000000000003" stroke="#444" stroke-width="0.6"/>
<line x1="192.82" y1="369.1" x2="192.82" y2="370.90000000000003" stroke="#444" stroke-width="0.6"/>
<line x1="196.49" y1="369.1" x2="196.49" y2="370.90000000000003" stroke="#444" stroke-width="0.6"/>
<line x1="199.67" y1="369.1" x2="199.67" y2="370.90000000000003" stroke="#444" stroke-width="0.6"/>
<line x1="202.47" y1="369.1" x2="202.47" y2="370.90000000000003" stroke="#444" stroke-width="0.6"/>
<line x1="204.97" y1="369.1" x2="204.97" y2="372.3" stroke="#333" stroke-width="0.9"/>
<line x1="221.46" y1="369.1" x2="221.46" y2="370.90000000000003" stroke="#444" stroke-width="0.6"/>
<line x1="231.11" y1="369.1" x2="231.11" y2="370.90000000000003" stroke="#444" stroke-width="0.6"/>
<line x1="237.95" y1="369.1" x2="237.95" y2="370.90000000000003" stroke="#444" stroke-width="0.6"/>
<line x1="243.26" y1="369.1" x2="243.26" y2="370.90000000000003" stroke="#444" stroke-width="0.6"/>
<line x1="247.60" y1="369.1" x2="247.60" y2="370.90000000000003" stroke="#444" stroke-width="0.6"/>
<line x1="251.27" y1="369.1" x2="251.27" y2="370.90000000000003" stroke="#444" stroke-width="0.6"/>
<line x1="254.44" y1="369.1" x2="254.44" y2="370.90000000000003" stroke="#444" stroke-width="0.6"/>
<line x1="257.24" y1="369.1" x2="257.24" y2="370.90000000000003" stroke="#444" stroke-width="0.6"/>
<line x1="259.75" y1="369.1" x2="259.75" y2="372.3" stroke="#333" stroke-width="0.9"/>
<text transform="translate(35.65 368.80) rotate(-90)" text-anchor="middle" font-size="15" letter-spacing="0.15" class="t">0</text>
<text transform="translate(35.65 337.64) rotate(-90)" text-anchor="middle" font-size="15" letter-spacing="0.15" class="t">70</text>
<text transform="translate(35.65 306.48) rotate(-90)" text-anchor="middle" font-size="15" letter-spacing="0.15" class="t">140</text>
<text transform="translate(35.65 275.32) rotate(-90)" text-anchor="middle" font-size="15" letter-spacing="0.15" class="t">210</text>
<text transform="translate(35.65 244.16) rotate(-90)" text-anchor="middle" font-size="15" letter-spacing="0.15" class="t">280</text>
<text transform="translate(35.65 213.00) rotate(-90)" text-anchor="middle" font-size="15" letter-spacing="0.15" class="t">350</text>
<text x="28.65" y="390.30" font-size="14.5" class="t">10<tspan dy="-8" dx="-0.3" font-size="14">0</tspan></text>
<text x="83.52" y="390.30" font-size="14.5" class="t">10<tspan dy="-8" dx="0.5" font-size="14">1</tspan></text>
<text x="135.20" y="390.30" font-size="14.5" class="t">10<tspan dy="-8" dx="0.5" font-size="14">2</tspan></text>
<text x="190.38" y="390.30" font-size="14.5" class="t">10<tspan dy="-8" dx="0.5" font-size="14">3</tspan></text>
<text x="241.25" y="390.30" font-size="14.5" class="t">10<tspan dy="-8" dx="0.5" font-size="14">4</tspan></text>
<text x="252" y="248.00" text-anchor="end" font-size="27" class="t">CD43</text>
<path d="M289.70 369.10 L289.70 308.13 L290.40 360.13 L291.10 361.93 L292.00 361.45 L292.90 361.47 L293.80 361.94 L294.70 361.18 L295.60 361.95 L296.50 362.18 L297.40 359.46 L298.30 362.85 L299.20 357.98 L300.10 357.68 L301.00 358.86 L301.90 356.84 L302.80 357.81 L303.70 357.46 L304.60 353.18 L305.50 353.60 L306.40 348.97 L307.30 346.53 L308.20 349.48 L309.10 348.95 L310.00 344.32 L310.90 350.84 L311.80 348.22 L312.70 344.11 L313.60 340.73 L314.50 339.28 L315.40 337.20 L316.30 333.36 L317.20 333.47 L318.10 329.71 L319.00 328.61 L319.90 329.24 L320.80 327.42 L321.70 324.54 L322.60 315.89 L323.50 314.40 L324.40 302.58 L325.30 304.94 L326.20 293.64 L327.10 301.93 L328.00 292.69 L328.90 294.48 L329.80 284.97 L330.70 275.41 L331.60 276.32 L332.50 271.11 L333.40 263.90 L334.60 263.30 L335.60 257.03 L336.40 250.75 L337.20 260.17 L338.00 262.41 L338.80 251.65 L339.60 261.51 L340.40 263.30 L341.20 251.65 L342.00 261.51 L342.70 269.58 L343.30 279.06 L344.20 276.42 L345.10 283.47 L346.00 281.92 L346.90 298.24 L347.80 300.79 L348.70 304.15 L349.60 307.84 L350.50 316.20 L351.40 313.59 L352.30 328.05 L353.20 330.19 L354.10 330.17 L355.00 335.90 L355.90 340.07 L356.80 333.80 L357.70 337.23 L358.60 347.30 L359.50 340.75 L360.40 341.95 L361.30 349.00 L362.20 344.76 L363.10 352.28 L364.00 351.26 L364.90 351.74 L365.80 351.43 L366.70 352.45 L367.60 353.61 L368.50 356.47 L369.40 352.81 L370.30 354.68 L371.20 357.11 L372.10 357.40 L373.00 354.12 L373.90 355.73 L374.80 358.68 L375.70 358.02 L376.60 355.84 L377.50 361.16 L378.40 359.52 L379.30 357.13 L380.20 360.68 L381.10 356.55 L382.00 361.24 L382.90 362.02 L383.80 362.29 L384.70 360.66 L385.60 361.70 L386.50 362.59 L387.40 361.78 L388.30 363.38 L389.20 362.41 L390.10 362.34 L391.00 363.12 L391.90 365.18 L392.80 363.36 L393.70 364.58 L394.60 364.30 L395.50 364.53 L396.40 366.14 L397.30 365.42 L398.20 367.01 L399.10 366.30 L400.00 368.14 L400.90 366.60 L401.80 367.20 L402.70 368.47 L403.60 367.27 L404.50 367.95 L405.40 366.52 L406.30 367.75 L407.20 366.72 L408.10 367.68 L409.00 368.58 L409.90 368.12 L410.80 368.26 L411.70 368.11 L412.60 369.10 L413.50 368.74 L414.40 368.88 L415.30 368.66 L416.20 368.71 L417.10 368.71 L418.00 368.67 L418.90 368.92 L419.80 368.74 L420.70 369.02 L421.60 369.06 L422.50 368.96 L423.40 369.02 L424.30 369.10 L425.20 369.10" fill="none" stroke="#333" stroke-width="0.8" stroke-linejoin="round"/>
<path d="M290.90 369.10 L290.90 363.72 L291.80 363.26 L292.70 361.24 L293.60 364.70 L294.50 362.27 L295.40 362.29 L296.30 360.74 L297.20 362.13 L298.10 358.58 L299.00 358.63 L299.90 359.10 L300.80 356.19 L301.70 356.47 L302.60 351.13 L303.50 352.14 L304.40 351.72 L305.30 353.13 L306.20 352.90 L307.10 349.04 L308.00 347.19 L308.90 349.42 L309.80 343.52 L310.70 338.67 L311.60 337.85 L312.50 333.71 L313.40 336.94 L314.30 335.06 L315.20 337.35 L316.10 333.16 L317.00 331.41 L317.90 328.14 L318.80 321.00 L319.70 321.24 L320.60 318.85 L321.50 313.97 L322.40 306.25 L323.30 308.91 L324.20 294.90 L325.10 294.60 L326.00 297.41 L326.90 283.21 L327.80 283.45 L328.70 279.36 L329.60 276.75 L330.50 281.67 L331.40 258.08 L332.30 258.77 L333.20 258.72 L334.10 254.20 L335.00 248.23 L335.90 247.17 L336.80 255.20 L337.70 265.71 L338.60 247.17 L339.50 264.85 L340.40 258.48 L341.30 272.75 L342.20 263.82 L343.10 279.58 L344.00 279.67 L344.90 280.34 L345.80 290.07 L346.70 294.92 L347.60 296.30 L348.50 305.09 L349.40 314.97 L350.30 319.65 L351.20 324.62 L352.10 321.90 L353.00 337.59 L353.90 336.21 L354.80 332.52 L355.70 343.71 L356.60 343.43 L357.50 342.62 L358.40 339.35 L359.30 343.05 L360.20 342.13 L361.10 340.97 L362.00 348.43 L362.90 348.01 L363.80 351.14 L364.70 345.88 L365.60 349.53 L366.50 348.42 L367.40 353.00 L368.30 349.64 L369.20 347.96 L370.10 347.30 L371.00 345.22 L371.90 352.50 L372.80 354.49 L373.70 358.30 L374.60 355.46 L375.50 358.77 L376.40 357.69 L377.30 360.16 L378.20 363.40 L379.10 362.10 L380.00 363.42 L380.90 363.86 L381.80 363.15 L382.70 364.35 L383.60 366.92 L384.50 364.56 L385.40 366.41 L386.30 365.84 L387.20 367.24 L388.10 366.43 L389.00 367.48 L389.90 368.02 L390.80 367.12 L391.70 367.84 L392.60 367.23 L393.50 367.33 L394.40 366.37 L395.30 366.90 L396.20 367.26 L397.10 368.54 L398.00 367.27 L398.90 368.20 L399.80 368.87 L400.70 368.59 L401.60 367.98 L402.50 368.35 L403.40 368.61 L404.30 368.17 L405.20 368.04 L406.10 368.57 L407.00 368.38 L407.90 368.55 L408.80 368.73 L409.70 368.95 L410.60 368.92 L411.50 369.10 L412.40 368.62 L413.30 368.84 L414.20 369.10 L415.10 369.10 L415.10 369.10 Z" fill="#585858" stroke="#222" stroke-width="0.8" stroke-linejoin="round"/>
<line x1="289.80" y1="369.1" x2="289.80" y2="308.13" stroke="#1a1a1a" stroke-width="1.2"/>
<path d="M289.4 369.1 L289.4 212.2 L508.1 212.2 L508.1 369.1" fill="none" stroke="#707070" stroke-width="1.15"/>
<line x1="288.9" y1="369.1" x2="508.6" y2="369.1" stroke="#222" stroke-width="1.4"/>
<line x1="286.80" y1="369.10" x2="289.4" y2="369.10" stroke="#444" stroke-width="0.7"/>
<line x1="288.00" y1="362.82" x2="289.4" y2="362.82" stroke="#444" stroke-width="0.7"/>
<line x1="288.00" y1="356.55" x2="289.4" y2="356.55" stroke="#444" stroke-width="0.7"/>
<line x1="288.00" y1="350.27" x2="289.4" y2="350.27" stroke="#444" stroke-width="0.7"/>
<line x1="288.00" y1="344.00" x2="289.4" y2="344.00" stroke="#444" stroke-width="0.7"/>
<line x1="286.80" y1="337.72" x2="289.4" y2="337.72" stroke="#444" stroke-width="0.7"/>
<line x1="288.00" y1="331.44" x2="289.4" y2="331.44" stroke="#444" stroke-width="0.7"/>
<line x1="288.00" y1="325.17" x2="289.4" y2="325.17" stroke="#444" stroke-width="0.7"/>
<line x1="288.00" y1="318.89" x2="289.4" y2="318.89" stroke="#444" stroke-width="0.7"/>
<line x1="288.00" y1="312.62" x2="289.4" y2="312.62" stroke="#444" stroke-width="0.7"/>
<line x1="286.80" y1="306.34" x2="289.4" y2="306.34" stroke="#444" stroke-width="0.7"/>
<line x1="288.00" y1="300.06" x2="289.4" y2="300.06" stroke="#444" stroke-width="0.7"/>
<line x1="288.00" y1="293.79" x2="289.4" y2="293.79" stroke="#444" stroke-width="0.7"/>
<line x1="288.00" y1="287.51" x2="289.4" y2="287.51" stroke="#444" stroke-width="0.7"/>
<line x1="288.00" y1="281.24" x2="289.4" y2="281.24" stroke="#444" stroke-width="0.7"/>
<line x1="286.80" y1="274.96" x2="289.4" y2="274.96" stroke="#444" stroke-width="0.7"/>
<line x1="288.00" y1="268.68" x2="289.4" y2="268.68" stroke="#444" stroke-width="0.7"/>
<line x1="288.00" y1="262.41" x2="289.4" y2="262.41" stroke="#444" stroke-width="0.7"/>
<line x1="288.00" y1="256.13" x2="289.4" y2="256.13" stroke="#444" stroke-width="0.7"/>
<line x1="288.00" y1="249.86" x2="289.4" y2="249.86" stroke="#444" stroke-width="0.7"/>
<line x1="286.80" y1="243.58" x2="289.4" y2="243.58" stroke="#444" stroke-width="0.7"/>
<line x1="288.00" y1="237.30" x2="289.4" y2="237.30" stroke="#444" stroke-width="0.7"/>
<line x1="288.00" y1="231.03" x2="289.4" y2="231.03" stroke="#444" stroke-width="0.7"/>
<line x1="288.00" y1="224.75" x2="289.4" y2="224.75" stroke="#444" stroke-width="0.7"/>
<line x1="288.00" y1="218.48" x2="289.4" y2="218.48" stroke="#444" stroke-width="0.7"/>
<line x1="286.80" y1="212.20" x2="289.4" y2="212.20" stroke="#444" stroke-width="0.7"/>
<line x1="289.40" y1="369.1" x2="289.40" y2="372.3" stroke="#333" stroke-width="0.9"/>
<line x1="305.86" y1="369.1" x2="305.86" y2="370.90000000000003" stroke="#444" stroke-width="0.6"/>
<line x1="315.49" y1="369.1" x2="315.49" y2="370.90000000000003" stroke="#444" stroke-width="0.6"/>
<line x1="322.32" y1="369.1" x2="322.32" y2="370.90000000000003" stroke="#444" stroke-width="0.6"/>
<line x1="327.62" y1="369.1" x2="327.62" y2="370.90000000000003" stroke="#444" stroke-width="0.6"/>
<line x1="331.95" y1="369.1" x2="331.95" y2="370.90000000000003" stroke="#444" stroke-width="0.6"/>
<line x1="335.61" y1="369.1" x2="335.61" y2="370.90000000000003" stroke="#444" stroke-width="0.6"/>
<line x1="338.78" y1="369.1" x2="338.78" y2="370.90000000000003" stroke="#444" stroke-width="0.6"/>
<line x1="341.57" y1="369.1" x2="341.57" y2="370.90000000000003" stroke="#444" stroke-width="0.6"/>
<line x1="344.07" y1="369.1" x2="344.07" y2="372.3" stroke="#333" stroke-width="0.9"/>
<line x1="360.53" y1="369.1" x2="360.53" y2="370.90000000000003" stroke="#444" stroke-width="0.6"/>
<line x1="370.16" y1="369.1" x2="370.16" y2="370.90000000000003" stroke="#444" stroke-width="0.6"/>
<line x1="376.99" y1="369.1" x2="376.99" y2="370.90000000000003" stroke="#444" stroke-width="0.6"/>
<line x1="382.29" y1="369.1" x2="382.29" y2="370.90000000000003" stroke="#444" stroke-width="0.6"/>
<line x1="386.62" y1="369.1" x2="386.62" y2="370.90000000000003" stroke="#444" stroke-width="0.6"/>
<line x1="390.28" y1="369.1" x2="390.28" y2="370.90000000000003" stroke="#444" stroke-width="0.6"/>
<line x1="393.45" y1="369.1" x2="393.45" y2="370.90000000000003" stroke="#444" stroke-width="0.6"/>
<line x1="396.25" y1="369.1" x2="396.25" y2="370.90000000000003" stroke="#444" stroke-width="0.6"/>
<line x1="398.75" y1="369.1" x2="398.75" y2="372.3" stroke="#333" stroke-width="0.9"/>
<line x1="415.21" y1="369.1" x2="415.21" y2="370.90000000000003" stroke="#444" stroke-width="0.6"/>
<line x1="424.84" y1="369.1" x2="424.84" y2="370.90000000000003" stroke="#444" stroke-width="0.6"/>
<line x1="431.67" y1="369.1" x2="431.67" y2="370.90000000000003" stroke="#444" stroke-width="0.6"/>
<line x1="436.97" y1="369.1" x2="436.97" y2="370.90000000000003" stroke="#444" stroke-width="0.6"/>
<line x1="441.30" y1="369.1" x2="441.30" y2="370.90000000000003" stroke="#444" stroke-width="0.6"/>
<line x1="444.96" y1="369.1" x2="444.96" y2="370.90000000000003" stroke="#444" stroke-width="0.6"/>
<line x1="448.13" y1="369.1" x2="448.13" y2="370.90000000000003" stroke="#444" stroke-width="0.6"/>
<line x1="450.92" y1="369.1" x2="450.92" y2="370.90000000000003" stroke="#444" stroke-width="0.6"/>
<line x1="453.43" y1="369.1" x2="453.43" y2="372.3" stroke="#333" stroke-width="0.9"/>
<line x1="469.88" y1="369.1" x2="469.88" y2="370.90000000000003" stroke="#444" stroke-width="0.6"/>
<line x1="479.51" y1="369.1" x2="479.51" y2="370.90000000000003" stroke="#444" stroke-width="0.6"/>
<line x1="486.34" y1="369.1" x2="486.34" y2="370.90000000000003" stroke="#444" stroke-width="0.6"/>
<line x1="491.64" y1="369.1" x2="491.64" y2="370.90000000000003" stroke="#444" stroke-width="0.6"/>
<line x1="495.97" y1="369.1" x2="495.97" y2="370.90000000000003" stroke="#444" stroke-width="0.6"/>
<line x1="499.63" y1="369.1" x2="499.63" y2="370.90000000000003" stroke="#444" stroke-width="0.6"/>
<line x1="502.80" y1="369.1" x2="502.80" y2="370.90000000000003" stroke="#444" stroke-width="0.6"/>
<line x1="505.60" y1="369.1" x2="505.60" y2="370.90000000000003" stroke="#444" stroke-width="0.6"/>
<line x1="508.10" y1="369.1" x2="508.10" y2="372.3" stroke="#333" stroke-width="0.9"/>
<text transform="translate(284.40 370.00) rotate(-90)" text-anchor="middle" font-size="15" letter-spacing="0.15" class="t">0</text>
<text transform="translate(284.40 338.98) rotate(-90)" text-anchor="middle" font-size="15" letter-spacing="0.15" class="t">70</text>
<text transform="translate(284.40 307.96) rotate(-90)" text-anchor="middle" font-size="15" letter-spacing="0.15" class="t">140</text>
<text transform="translate(284.40 276.94) rotate(-90)" text-anchor="middle" font-size="15" letter-spacing="0.15" class="t">210</text>
<text transform="translate(284.40 245.92) rotate(-90)" text-anchor="middle" font-size="15" letter-spacing="0.15" class="t">280</text>
<text transform="translate(284.40 214.90) rotate(-90)" text-anchor="middle" font-size="15" letter-spacing="0.15" class="t">350</text>
<text x="277.40" y="390.30" font-size="14.5" class="t">10<tspan dy="-8" dx="-0.3" font-size="14">0</tspan></text>
<text x="332.18" y="390.30" font-size="14.5" class="t">10<tspan dy="-8" dx="0.5" font-size="14">1</tspan></text>
<text x="385.05" y="390.30" font-size="14.5" class="t">10<tspan dy="-8" dx="0.5" font-size="14">2</tspan></text>
<text x="440.12" y="390.30" font-size="14.5" class="t">10<tspan dy="-8" dx="0.5" font-size="14">3</tspan></text>
<text x="491.10" y="390.30" font-size="14.5" class="t">10<tspan dy="-8" dx="0.5" font-size="14">4</tspan></text>
<text x="501" y="248.00" text-anchor="end" font-size="27" class="t">CD49b</text>
<path d="M40.95 566.70 L40.95 505.87 L41.65 557.75 L42.35 559.54 L43.25 559.07 L44.15 559.09 L45.05 559.56 L45.95 558.80 L46.85 559.57 L47.75 559.79 L48.65 557.08 L49.55 560.47 L50.45 555.60 L51.35 555.31 L52.25 556.48 L53.15 554.46 L54.05 555.44 L54.95 555.09 L55.85 550.81 L56.75 551.23 L57.65 546.61 L58.55 544.18 L59.45 547.13 L60.35 546.60 L61.25 541.98 L62.15 548.48 L63.05 545.87 L63.95 541.77 L64.85 538.39 L65.75 536.95 L66.65 534.87 L67.55 531.04 L68.45 531.15 L69.35 527.39 L70.25 526.30 L71.15 526.93 L72.05 525.11 L72.95 522.24 L73.85 513.61 L74.75 512.12 L75.65 500.33 L76.55 502.68 L77.45 491.40 L78.35 499.68 L79.25 490.46 L80.15 492.24 L81.05 482.76 L81.95 473.22 L82.85 474.13 L83.75 468.93 L84.65 461.73 L85.85 461.14 L86.85 454.88 L87.65 448.62 L88.45 458.01 L89.25 460.25 L90.05 449.51 L90.85 459.35 L91.65 461.14 L92.45 449.51 L93.25 459.35 L93.95 467.40 L94.55 476.86 L95.45 474.23 L96.35 481.26 L97.25 479.71 L98.15 495.99 L99.05 498.54 L99.95 501.89 L100.85 505.58 L101.75 513.91 L102.65 511.31 L103.55 525.75 L104.45 527.88 L105.35 527.86 L106.25 533.58 L107.15 537.73 L108.05 531.48 L108.95 534.90 L109.85 544.95 L110.75 538.41 L111.65 539.61 L112.55 546.65 L113.45 542.42 L114.35 549.92 L115.25 548.90 L116.15 549.37 L117.05 549.07 L117.95 550.08 L118.85 551.24 L119.75 554.09 L120.65 550.45 L121.55 552.31 L122.45 554.74 L123.35 555.02 L124.25 551.76 L125.15 553.36 L126.05 556.30 L126.95 555.64 L127.85 553.47 L128.75 558.77 L129.65 557.14 L130.55 554.75 L131.45 558.30 L132.35 554.18 L133.25 558.86 L134.15 559.63 L135.05 559.91 L135.95 558.28 L136.85 559.32 L137.75 560.20 L138.65 559.40 L139.55 560.99 L140.45 560.03 L141.35 559.96 L142.25 560.73 L143.15 562.79 L144.05 560.97 L144.95 562.19 L145.85 561.92 L146.75 562.14 L147.65 563.74 L148.55 563.03 L149.45 564.61 L150.35 563.91 L151.25 565.74 L152.15 564.21 L153.05 564.80 L153.95 566.07 L154.85 564.88 L155.75 565.55 L156.65 564.13 L157.55 565.35 L158.45 564.33 L159.35 565.29 L160.25 566.18 L161.15 565.72 L162.05 565.86 L162.95 565.72 L163.85 566.70 L164.75 566.34 L165.65 566.48 L166.55 566.26 L167.45 566.31 L168.35 566.31 L169.25 566.27 L170.15 566.52 L171.05 566.34 L171.95 566.62 L172.85 566.66 L173.75 566.56 L174.65 566.62 L175.55 566.70 L176.45 566.70" fill="none" stroke="#333" stroke-width="0.8" stroke-linejoin="round"/>
<path d="M91.85 566.70 L91.85 566.70 L92.75 566.44 L93.65 566.36 L94.55 566.17 L95.45 565.59 L96.35 566.66 L97.25 565.90 L98.15 566.42 L99.05 565.43 L99.95 564.86 L100.85 563.39 L101.75 562.26 L102.65 562.74 L103.55 562.17 L104.45 561.91 L105.35 557.67 L106.25 557.02 L107.15 554.85 L108.05 553.64 L108.95 550.34 L109.85 552.21 L110.75 552.48 L111.65 545.68 L112.55 544.69 L113.45 542.99 L114.35 541.47 L115.25 533.10 L116.15 524.75 L117.05 531.01 L117.95 523.23 L118.85 517.91 L119.75 507.26 L120.65 514.49 L121.55 504.77 L122.45 492.19 L123.35 490.87 L124.25 484.09 L125.15 483.65 L126.05 465.90 L126.95 460.29 L127.85 437.66 L128.75 433.61 L129.65 427.78 L130.55 427.26 L131.45 412.83 L132.35 419.06 L133.25 413.85 L134.15 414.81 L135.05 423.38 L135.95 426.82 L136.85 425.38 L137.75 433.49 L138.65 442.86 L139.55 446.97 L140.45 458.30 L141.35 461.61 L142.25 470.72 L143.15 473.11 L144.05 494.20 L144.95 498.14 L145.85 508.03 L146.75 508.00 L147.65 515.92 L148.55 519.88 L149.45 517.82 L150.35 522.69 L151.25 527.00 L152.15 532.42 L153.05 537.32 L153.95 535.23 L154.85 533.37 L155.75 535.03 L156.65 543.13 L157.55 542.81 L158.45 539.25 L159.35 546.98 L160.25 548.52 L161.15 551.81 L162.05 553.21 L162.95 554.72 L163.85 550.55 L164.75 553.56 L165.65 558.27 L166.55 557.46 L167.45 562.72 L168.35 559.15 L169.25 558.93 L170.15 560.00 L171.05 561.23 L171.95 563.48 L172.85 565.03 L173.75 564.09 L174.65 565.58 L175.55 565.42 L176.45 566.45 L177.35 566.70 L177.35 566.70 Z" fill="#585858" stroke="#222" stroke-width="0.8" stroke-linejoin="round"/>
<line x1="41.05" y1="566.7" x2="41.05" y2="505.87" stroke="#1a1a1a" stroke-width="1.2"/>
<path d="M40.65 566.7 L40.65 410.15 L259.75 410.15 L259.75 566.7" fill="none" stroke="#707070" stroke-width="1.15"/>
<line x1="40.15" y1="566.7" x2="260.25" y2="566.7" stroke="#222" stroke-width="1.4"/>
<line x1="38.05" y1="566.70" x2="40.65" y2="566.70" stroke="#444" stroke-width="0.7"/>
<line x1="39.25" y1="560.44" x2="40.65" y2="560.44" stroke="#444" stroke-width="0.7"/>
<line x1="39.25" y1="554.18" x2="40.65" y2="554.18" stroke="#444" stroke-width="0.7"/>
<line x1="39.25" y1="547.91" x2="40.65" y2="547.91" stroke="#444" stroke-width="0.7"/>
<line x1="39.25" y1="541.65" x2="40.65" y2="541.65" stroke="#444" stroke-width="0.7"/>
<line x1="38.05" y1="535.39" x2="40.65" y2="535.39" stroke="#444" stroke-width="0.7"/>
<line x1="39.25" y1="529.13" x2="40.65" y2="529.13" stroke="#444" stroke-width="0.7"/>
<line x1="39.25" y1="522.87" x2="40.65" y2="522.87" stroke="#444" stroke-width="0.7"/>
<line x1="39.25" y1="516.60" x2="40.65" y2="516.60" stroke="#444" stroke-width="0.7"/>
<line x1="39.25" y1="510.34" x2="40.65" y2="510.34" stroke="#444" stroke-width="0.7"/>
<line x1="38.05" y1="504.08" x2="40.65" y2="504.08" stroke="#444" stroke-width="0.7"/>
<line x1="39.25" y1="497.82" x2="40.65" y2="497.82" stroke="#444" stroke-width="0.7"/>
<line x1="39.25" y1="491.56" x2="40.65" y2="491.56" stroke="#444" stroke-width="0.7"/>
<line x1="39.25" y1="485.29" x2="40.65" y2="485.29" stroke="#444" stroke-width="0.7"/>
<line x1="39.25" y1="479.03" x2="40.65" y2="479.03" stroke="#444" stroke-width="0.7"/>
<line x1="38.05" y1="472.77" x2="40.65" y2="472.77" stroke="#444" stroke-width="0.7"/>
<line x1="39.25" y1="466.51" x2="40.65" y2="466.51" stroke="#444" stroke-width="0.7"/>
<line x1="39.25" y1="460.25" x2="40.65" y2="460.25" stroke="#444" stroke-width="0.7"/>
<line x1="39.25" y1="453.98" x2="40.65" y2="453.98" stroke="#444" stroke-width="0.7"/>
<line x1="39.25" y1="447.72" x2="40.65" y2="447.72" stroke="#444" stroke-width="0.7"/>
<line x1="38.05" y1="441.46" x2="40.65" y2="441.46" stroke="#444" stroke-width="0.7"/>
<line x1="39.25" y1="435.20" x2="40.65" y2="435.20" stroke="#444" stroke-width="0.7"/>
<line x1="39.25" y1="428.94" x2="40.65" y2="428.94" stroke="#444" stroke-width="0.7"/>
<line x1="39.25" y1="422.67" x2="40.65" y2="422.67" stroke="#444" stroke-width="0.7"/>
<line x1="39.25" y1="416.41" x2="40.65" y2="416.41" stroke="#444" stroke-width="0.7"/>
<line x1="38.05" y1="410.15" x2="40.65" y2="410.15" stroke="#444" stroke-width="0.7"/>
<line x1="40.65" y1="566.7" x2="40.65" y2="569.9000000000001" stroke="#333" stroke-width="0.9"/>
<line x1="57.14" y1="566.7" x2="57.14" y2="568.5" stroke="#444" stroke-width="0.6"/>
<line x1="66.78" y1="566.7" x2="66.78" y2="568.5" stroke="#444" stroke-width="0.6"/>
<line x1="73.63" y1="566.7" x2="73.63" y2="568.5" stroke="#444" stroke-width="0.6"/>
<line x1="78.94" y1="566.7" x2="78.94" y2="568.5" stroke="#444" stroke-width="0.6"/>
<line x1="83.27" y1="566.7" x2="83.27" y2="568.5" stroke="#444" stroke-width="0.6"/>
<line x1="86.94" y1="566.7" x2="86.94" y2="568.5" stroke="#444" stroke-width="0.6"/>
<line x1="90.12" y1="566.7" x2="90.12" y2="568.5" stroke="#444" stroke-width="0.6"/>
<line x1="92.92" y1="566.7" x2="92.92" y2="568.5" stroke="#444" stroke-width="0.6"/>
<line x1="95.42" y1="566.7" x2="95.42" y2="569.9000000000001" stroke="#333" stroke-width="0.9"/>
<line x1="111.91" y1="566.7" x2="111.91" y2="568.5" stroke="#444" stroke-width="0.6"/>
<line x1="121.56" y1="566.7" x2="121.56" y2="568.5" stroke="#444" stroke-width="0.6"/>
<line x1="128.40" y1="566.7" x2="128.40" y2="568.5" stroke="#444" stroke-width="0.6"/>
<line x1="133.71" y1="566.7" x2="133.71" y2="568.5" stroke="#444" stroke-width="0.6"/>
<line x1="138.05" y1="566.7" x2="138.05" y2="568.5" stroke="#444" stroke-width="0.6"/>
<line x1="141.72" y1="566.7" x2="141.72" y2="568.5" stroke="#444" stroke-width="0.6"/>
<line x1="144.89" y1="566.7" x2="144.89" y2="568.5" stroke="#444" stroke-width="0.6"/>
<line x1="147.69" y1="566.7" x2="147.69" y2="568.5" stroke="#444" stroke-width="0.6"/>
<line x1="150.20" y1="566.7" x2="150.20" y2="569.9000000000001" stroke="#333" stroke-width="0.9"/>
<line x1="166.69" y1="566.7" x2="166.69" y2="568.5" stroke="#444" stroke-width="0.6"/>
<line x1="176.33" y1="566.7" x2="176.33" y2="568.5" stroke="#444" stroke-width="0.6"/>
<line x1="183.18" y1="566.7" x2="183.18" y2="568.5" stroke="#444" stroke-width="0.6"/>
<line x1="188.49" y1="566.7" x2="188.49" y2="568.5" stroke="#444" stroke-width="0.6"/>
<line x1="192.82" y1="566.7" x2="192.82" y2="568.5" stroke="#444" stroke-width="0.6"/>
<line x1="196.49" y1="566.7" x2="196.49" y2="568.5" stroke="#444" stroke-width="0.6"/>
<line x1="199.67" y1="566.7" x2="199.67" y2="568.5" stroke="#444" stroke-width="0.6"/>
<line x1="202.47" y1="566.7" x2="202.47" y2="568.5" stroke="#444" stroke-width="0.6"/>
<line x1="204.97" y1="566.7" x2="204.97" y2="569.9000000000001" stroke="#333" stroke-width="0.9"/>
<line x1="221.46" y1="566.7" x2="221.46" y2="568.5" stroke="#444" stroke-width="0.6"/>
<line x1="231.11" y1="566.7" x2="231.11" y2="568.5" stroke="#444" stroke-width="0.6"/>
<line x1="237.95" y1="566.7" x2="237.95" y2="568.5" stroke="#444" stroke-width="0.6"/>
<line x1="243.26" y1="566.7" x2="243.26" y2="568.5" stroke="#444" stroke-width="0.6"/>
<line x1="247.60" y1="566.7" x2="247.60" y2="568.5" stroke="#444" stroke-width="0.6"/>
<line x1="251.27" y1="566.7" x2="251.27" y2="568.5" stroke="#444" stroke-width="0.6"/>
<line x1="254.44" y1="566.7" x2="254.44" y2="568.5" stroke="#444" stroke-width="0.6"/>
<line x1="257.24" y1="566.7" x2="257.24" y2="568.5" stroke="#444" stroke-width="0.6"/>
<line x1="259.75" y1="566.7" x2="259.75" y2="569.9000000000001" stroke="#333" stroke-width="0.9"/>
<text transform="translate(35.65 565.60) rotate(-90)" text-anchor="middle" font-size="15" letter-spacing="0.15" class="t">0</text>
<text transform="translate(35.65 534.71) rotate(-90)" text-anchor="middle" font-size="15" letter-spacing="0.15" class="t">70</text>
<text transform="translate(35.65 503.82) rotate(-90)" text-anchor="middle" font-size="15" letter-spacing="0.15" class="t">140</text>
<text transform="translate(35.65 472.93) rotate(-90)" text-anchor="middle" font-size="15" letter-spacing="0.15" class="t">210</text>
<text transform="translate(35.65 442.04) rotate(-90)" text-anchor="middle" font-size="15" letter-spacing="0.15" class="t">280</text>
<text transform="translate(35.65 411.15) rotate(-90)" text-anchor="middle" font-size="15" letter-spacing="0.15" class="t">350</text>
<text x="31.15" y="588.50" font-size="14.5" class="t">10<tspan dy="-8" dx="0.5" font-size="14">0</tspan></text>
<text x="85.02" y="588.50" font-size="14.5" class="t">10<tspan dy="-8" dx="0.5" font-size="14">1</tspan></text>
<text x="136.90" y="588.50" font-size="14.5" class="t">10<tspan dy="-8" dx="0.5" font-size="14">2</tspan></text>
<text x="192.97" y="588.50" font-size="14.5" class="t">10<tspan dy="-8" dx="0.5" font-size="14">3</tspan></text>
<text x="243.45" y="588.50" font-size="14.5" class="t">10<tspan dy="-8" dx="0.5" font-size="14">4</tspan></text>
<text x="252" y="445.65" text-anchor="end" font-size="27" class="t">CD51</text>
<path d="M289.70 566.70 L289.70 505.87 L290.40 557.75 L291.10 559.54 L292.00 559.07 L292.90 559.09 L293.80 559.56 L294.70 558.80 L295.60 559.57 L296.50 559.79 L297.40 557.08 L298.30 560.47 L299.20 555.60 L300.10 555.31 L301.00 556.48 L301.90 554.46 L302.80 555.44 L303.70 555.09 L304.60 550.81 L305.50 551.23 L306.40 546.61 L307.30 544.18 L308.20 547.13 L309.10 546.60 L310.00 541.98 L310.90 548.48 L311.80 545.87 L312.70 541.77 L313.60 538.39 L314.50 536.95 L315.40 534.87 L316.30 531.04 L317.20 531.15 L318.10 527.39 L319.00 526.30 L319.90 526.93 L320.80 525.11 L321.70 522.24 L322.60 513.61 L323.50 512.12 L324.40 500.33 L325.30 502.68 L326.20 491.40 L327.10 499.68 L328.00 490.46 L328.90 492.24 L329.80 482.76 L330.70 473.22 L331.60 474.13 L332.50 468.93 L333.40 461.73 L334.60 461.14 L335.60 454.88 L336.40 448.62 L337.20 458.01 L338.00 460.25 L338.80 449.51 L339.60 459.35 L340.40 461.14 L341.20 449.51 L342.00 459.35 L342.70 467.40 L343.30 476.86 L344.20 474.23 L345.10 481.26 L346.00 479.71 L346.90 495.99 L347.80 498.54 L348.70 501.89 L349.60 505.58 L350.50 513.91 L351.40 511.31 L352.30 525.75 L353.20 527.88 L354.10 527.86 L355.00 533.58 L355.90 537.73 L356.80 531.48 L357.70 534.90 L358.60 544.95 L359.50 538.41 L360.40 539.61 L361.30 546.65 L362.20 542.42 L363.10 549.92 L364.00 548.90 L364.90 549.37 L365.80 549.07 L366.70 550.08 L367.60 551.24 L368.50 554.09 L369.40 550.45 L370.30 552.31 L371.20 554.74 L372.10 555.02 L373.00 551.76 L373.90 553.36 L374.80 556.30 L375.70 555.64 L376.60 553.47 L377.50 558.77 L378.40 557.14 L379.30 554.75 L380.20 558.30 L381.10 554.18 L382.00 558.86 L382.90 559.63 L383.80 559.91 L384.70 558.28 L385.60 559.32 L386.50 560.20 L387.40 559.40 L388.30 560.99 L389.20 560.03 L390.10 559.96 L391.00 560.73 L391.90 562.79 L392.80 560.97 L393.70 562.19 L394.60 561.92 L395.50 562.14 L396.40 563.74 L397.30 563.03 L398.20 564.61 L399.10 563.91 L400.00 565.74 L400.90 564.21 L401.80 564.80 L402.70 566.07 L403.60 564.88 L404.50 565.55 L405.40 564.13 L406.30 565.35 L407.20 564.33 L408.10 565.29 L409.00 566.18 L409.90 565.72 L410.80 565.86 L411.70 565.72 L412.60 566.70 L413.50 566.34 L414.40 566.48 L415.30 566.26 L416.20 566.31 L417.10 566.31 L418.00 566.27 L418.90 566.52 L419.80 566.34 L420.70 566.62 L421.60 566.66 L422.50 566.56 L423.40 566.62 L424.30 566.70 L425.20 566.70" fill="none" stroke="#333" stroke-width="0.8" stroke-linejoin="round"/>
<path d="M349.90 566.70 L349.90 566.70 L350.80 566.56 L351.70 566.63 L352.60 566.44 L353.50 566.35 L354.40 566.70 L355.30 566.53 L356.20 566.18 L357.10 565.84 L358.00 566.60 L358.90 566.22 L359.80 566.21 L360.70 566.30 L361.60 566.08 L362.50 565.65 L363.40 566.03 L364.30 565.58 L365.20 564.71 L366.10 565.04 L367.00 564.97 L367.90 565.33 L368.80 564.31 L369.70 564.20 L370.60 565.09 L371.50 564.90 L372.40 564.04 L373.30 564.42 L374.20 564.73 L375.10 561.67 L376.00 564.04 L376.90 563.13 L377.80 563.54 L378.70 563.44 L379.60 560.68 L380.50 561.14 L381.40 560.99 L382.30 561.34 L383.20 560.06 L384.10 559.41 L385.00 558.38 L385.90 559.36 L386.80 559.46 L387.70 557.61 L388.60 555.70 L389.50 558.94 L390.40 555.20 L391.30 555.32 L392.20 553.08 L393.10 553.52 L394.00 552.36 L394.90 549.82 L395.80 548.29 L396.70 547.60 L397.60 547.04 L398.50 543.40 L399.40 543.92 L400.30 545.23 L401.20 547.27 L402.10 539.76 L403.00 532.57 L403.90 533.25 L404.80 536.86 L405.70 529.03 L406.60 532.80 L407.50 527.58 L408.40 528.21 L409.30 522.23 L410.20 514.31 L411.10 511.47 L412.00 507.36 L412.90 504.68 L413.80 501.85 L414.70 493.51 L415.60 491.66 L416.50 487.18 L417.40 478.92 L418.30 468.48 L419.20 459.91 L420.10 458.79 L421.00 453.06 L421.90 448.76 L422.80 444.45 L423.70 444.86 L424.60 450.10 L425.50 441.93 L426.40 435.50 L427.30 438.53 L428.20 439.54 L429.10 444.66 L430.00 453.20 L430.90 453.64 L431.80 465.51 L432.70 477.06 L433.60 474.77 L434.50 486.51 L435.40 496.00 L436.30 495.15 L437.20 505.44 L438.10 510.77 L439.00 519.19 L439.90 517.94 L440.80 522.44 L441.70 529.06 L442.60 528.00 L443.50 533.42 L444.40 533.27 L445.30 536.45 L446.20 537.38 L447.10 543.55 L448.00 540.02 L448.90 540.96 L449.80 545.73 L450.70 542.50 L451.60 549.45 L452.50 545.15 L453.40 547.42 L454.30 551.64 L455.20 551.21 L456.10 552.28 L457.00 551.69 L457.90 555.60 L458.80 557.63 L459.70 557.28 L460.60 558.99 L461.50 560.18 L462.40 561.97 L463.30 562.30 L464.20 560.11 L465.10 562.76 L466.00 563.83 L466.90 563.59 L467.80 564.65 L468.70 565.11 L469.60 564.59 L470.50 564.83 L471.40 565.97 L472.30 565.69 L473.20 566.49 L474.10 566.67 L475.00 566.26 L475.90 566.70 L475.90 566.70 Z" fill="#585858" stroke="#222" stroke-width="0.8" stroke-linejoin="round"/>
<line x1="289.80" y1="566.7" x2="289.80" y2="505.87" stroke="#1a1a1a" stroke-width="1.2"/>
<path d="M289.4 566.7 L289.4 410.15 L508.1 410.15 L508.1 566.7" fill="none" stroke="#707070" stroke-width="1.15"/>
<line x1="288.9" y1="566.7" x2="508.6" y2="566.7" stroke="#222" stroke-width="1.4"/>
<line x1="286.80" y1="566.70" x2="289.4" y2="566.70" stroke="#444" stroke-width="0.7"/>
<line x1="288.00" y1="560.44" x2="289.4" y2="560.44" stroke="#444" stroke-width="0.7"/>
<line x1="288.00" y1="554.18" x2="289.4" y2="554.18" stroke="#444" stroke-width="0.7"/>
<line x1="288.00" y1="547.91" x2="289.4" y2="547.91" stroke="#444" stroke-width="0.7"/>
<line x1="288.00" y1="541.65" x2="289.4" y2="541.65" stroke="#444" stroke-width="0.7"/>
<line x1="286.80" y1="535.39" x2="289.4" y2="535.39" stroke="#444" stroke-width="0.7"/>
<line x1="288.00" y1="529.13" x2="289.4" y2="529.13" stroke="#444" stroke-width="0.7"/>
<line x1="288.00" y1="522.87" x2="289.4" y2="522.87" stroke="#444" stroke-width="0.7"/>
<line x1="288.00" y1="516.60" x2="289.4" y2="516.60" stroke="#444" stroke-width="0.7"/>
<line x1="288.00" y1="510.34" x2="289.4" y2="510.34" stroke="#444" stroke-width="0.7"/>
<line x1="286.80" y1="504.08" x2="289.4" y2="504.08" stroke="#444" stroke-width="0.7"/>
<line x1="288.00" y1="497.82" x2="289.4" y2="497.82" stroke="#444" stroke-width="0.7"/>
<line x1="288.00" y1="491.56" x2="289.4" y2="491.56" stroke="#444" stroke-width="0.7"/>
<line x1="288.00" y1="485.29" x2="289.4" y2="485.29" stroke="#444" stroke-width="0.7"/>
<line x1="288.00" y1="479.03" x2="289.4" y2="479.03" stroke="#444" stroke-width="0.7"/>
<line x1="286.80" y1="472.77" x2="289.4" y2="472.77" stroke="#444" stroke-width="0.7"/>
<line x1="288.00" y1="466.51" x2="289.4" y2="466.51" stroke="#444" stroke-width="0.7"/>
<line x1="288.00" y1="460.25" x2="289.4" y2="460.25" stroke="#444" stroke-width="0.7"/>
<line x1="288.00" y1="453.98" x2="289.4" y2="453.98" stroke="#444" stroke-width="0.7"/>
<line x1="288.00" y1="447.72" x2="289.4" y2="447.72" stroke="#444" stroke-width="0.7"/>
<line x1="286.80" y1="441.46" x2="289.4" y2="441.46" stroke="#444" stroke-width="0.7"/>
<line x1="288.00" y1="435.20" x2="289.4" y2="435.20" stroke="#444" stroke-width="0.7"/>
<line x1="288.00" y1="428.94" x2="289.4" y2="428.94" stroke="#444" stroke-width="0.7"/>
<line x1="288.00" y1="422.67" x2="289.4" y2="422.67" stroke="#444" stroke-width="0.7"/>
<line x1="288.00" y1="416.41" x2="289.4" y2="416.41" stroke="#444" stroke-width="0.7"/>
<line x1="286.80" y1="410.15" x2="289.4" y2="410.15" stroke="#444" stroke-width="0.7"/>
<line x1="289.40" y1="566.7" x2="289.40" y2="569.9000000000001" stroke="#333" stroke-width="0.9"/>
<line x1="305.86" y1="566.7" x2="305.86" y2="568.5" stroke="#444" stroke-width="0.6"/>
<line x1="315.49" y1="566.7" x2="315.49" y2="568.5" stroke="#444" stroke-width="0.6"/>
<line x1="322.32" y1="566.7" x2="322.32" y2="568.5" stroke="#444" stroke-width="0.6"/>
<line x1="327.62" y1="566.7" x2="327.62" y2="568.5" stroke="#444" stroke-width="0.6"/>
<line x1="331.95" y1="566.7" x2="331.95" y2="568.5" stroke="#444" stroke-width="0.6"/>
<line x1="335.61" y1="566.7" x2="335.61" y2="568.5" stroke="#444" stroke-width="0.6"/>
<line x1="338.78" y1="566.7" x2="338.78" y2="568.5" stroke="#444" stroke-width="0.6"/>
<line x1="341.57" y1="566.7" x2="341.57" y2="568.5" stroke="#444" stroke-width="0.6"/>
<line x1="344.07" y1="566.7" x2="344.07" y2="569.9000000000001" stroke="#333" stroke-width="0.9"/>
<line x1="360.53" y1="566.7" x2="360.53" y2="568.5" stroke="#444" stroke-width="0.6"/>
<line x1="370.16" y1="566.7" x2="370.16" y2="568.5" stroke="#444" stroke-width="0.6"/>
<line x1="376.99" y1="566.7" x2="376.99" y2="568.5" stroke="#444" stroke-width="0.6"/>
<line x1="382.29" y1="566.7" x2="382.29" y2="568.5" stroke="#444" stroke-width="0.6"/>
<line x1="386.62" y1="566.7" x2="386.62" y2="568.5" stroke="#444" stroke-width="0.6"/>
<line x1="390.28" y1="566.7" x2="390.28" y2="568.5" stroke="#444" stroke-width="0.6"/>
<line x1="393.45" y1="566.7" x2="393.45" y2="568.5" stroke="#444" stroke-width="0.6"/>
<line x1="396.25" y1="566.7" x2="396.25" y2="568.5" stroke="#444" stroke-width="0.6"/>
<line x1="398.75" y1="566.7" x2="398.75" y2="569.9000000000001" stroke="#333" stroke-width="0.9"/>
<line x1="415.21" y1="566.7" x2="415.21" y2="568.5" stroke="#444" stroke-width="0.6"/>
<line x1="424.84" y1="566.7" x2="424.84" y2="568.5" stroke="#444" stroke-width="0.6"/>
<line x1="431.67" y1="566.7" x2="431.67" y2="568.5" stroke="#444" stroke-width="0.6"/>
<line x1="436.97" y1="566.7" x2="436.97" y2="568.5" stroke="#444" stroke-width="0.6"/>
<line x1="441.30" y1="566.7" x2="441.30" y2="568.5" stroke="#444" stroke-width="0.6"/>
<line x1="444.96" y1="566.7" x2="444.96" y2="568.5" stroke="#444" stroke-width="0.6"/>
<line x1="448.13" y1="566.7" x2="448.13" y2="568.5" stroke="#444" stroke-width="0.6"/>
<line x1="450.92" y1="566.7" x2="450.92" y2="568.5" stroke="#444" stroke-width="0.6"/>
<line x1="453.43" y1="566.7" x2="453.43" y2="569.9000000000001" stroke="#333" stroke-width="0.9"/>
<line x1="469.88" y1="566.7" x2="469.88" y2="568.5" stroke="#444" stroke-width="0.6"/>
<line x1="479.51" y1="566.7" x2="479.51" y2="568.5" stroke="#444" stroke-width="0.6"/>
<line x1="486.34" y1="566.7" x2="486.34" y2="568.5" stroke="#444" stroke-width="0.6"/>
<line x1="491.64" y1="566.7" x2="491.64" y2="568.5" stroke="#444" stroke-width="0.6"/>
<line x1="495.97" y1="566.7" x2="495.97" y2="568.5" stroke="#444" stroke-width="0.6"/>
<line x1="499.63" y1="566.7" x2="499.63" y2="568.5" stroke="#444" stroke-width="0.6"/>
<line x1="502.80" y1="566.7" x2="502.80" y2="568.5" stroke="#444" stroke-width="0.6"/>
<line x1="505.60" y1="566.7" x2="505.60" y2="568.5" stroke="#444" stroke-width="0.6"/>
<line x1="508.10" y1="566.7" x2="508.10" y2="569.9000000000001" stroke="#333" stroke-width="0.9"/>
<text transform="translate(284.40 566.50) rotate(-90)" text-anchor="middle" font-size="15" letter-spacing="0.15" class="t">0</text>
<text transform="translate(284.40 535.53) rotate(-90)" text-anchor="middle" font-size="15" letter-spacing="0.15" class="t">70</text>
<text transform="translate(284.40 504.56) rotate(-90)" text-anchor="middle" font-size="15" letter-spacing="0.15" class="t">140</text>
<text transform="translate(284.40 473.59) rotate(-90)" text-anchor="middle" font-size="15" letter-spacing="0.15" class="t">210</text>
<text transform="translate(284.40 442.62) rotate(-90)" text-anchor="middle" font-size="15" letter-spacing="0.15" class="t">280</text>
<text transform="translate(284.40 411.65) rotate(-90)" text-anchor="middle" font-size="15" letter-spacing="0.15" class="t">350</text>
<text x="281.40" y="588.50" font-size="14.5" class="t">10<tspan dy="-8" dx="0.5" font-size="14">0</tspan></text>
<text x="336.27" y="588.50" font-size="14.5" class="t">10<tspan dy="-8" dx="0.5" font-size="14">1</tspan></text>
<text x="386.15" y="588.50" font-size="14.5" class="t">10<tspan dy="-8" dx="0.5" font-size="14">2</tspan></text>
<text x="442.12" y="588.50" font-size="14.5" class="t">10<tspan dy="-8" dx="0.5" font-size="14">3</tspan></text>
<text x="492.70" y="588.50" font-size="14.5" class="t">10<tspan dy="-8" dx="0.5" font-size="14">4</tspan></text>
<text x="500.3" y="445.65" text-anchor="end" font-size="27" class="t">CD94</text>
<text transform="translate(18.3 290) rotate(-90)" text-anchor="middle" font-size="20" class="t">Counts</text>
</svg>
</body></html>
